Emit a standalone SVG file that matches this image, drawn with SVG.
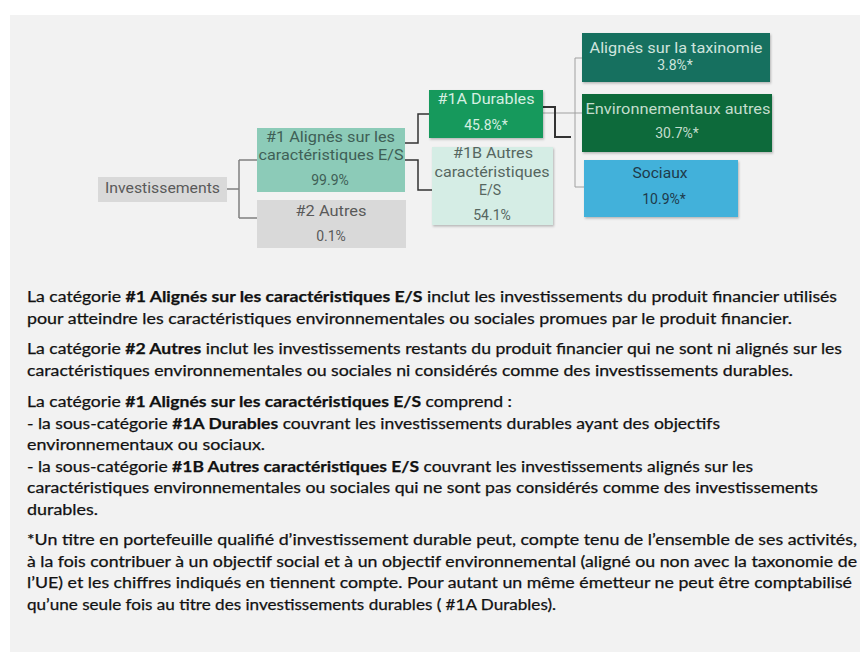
<svg xmlns="http://www.w3.org/2000/svg" width="860" height="655" viewBox="0 0 860 655">
<style>
.lbl{font-family:Roboto,"Liberation Sans",sans-serif;font-size:14px;text-anchor:middle;}
.body{font-family:Lato,"Liberation Sans",sans-serif;font-size:15.5px;fill:#111;stroke:#111;stroke-width:0.25;}
.b{font-weight:bold;}
.cg{fill:none;stroke:#808080;stroke-width:1.5;}
.cd{fill:none;stroke:#333;stroke-width:1.5;}
.ct{fill:none;stroke:#a0a0a0;stroke-width:1;}
</style>
<defs>
<filter id="sh" x="-10%" y="-10%" width="130%" height="140%">
<feDropShadow dx="1" dy="1.5" stdDeviation="1" flood-color="#000" flood-opacity="0.25"/>
</filter>
</defs>
<rect x="0" y="0" width="860" height="655" fill="#ffffff"/>
<rect x="10" y="15" width="850" height="637" fill="#f2f2f2"/>

<g id="connectors">
<path class="cg" d="M227,189 H239 M239,160 V218 M239,160 H257 M239,218 H257"/>
<path class="cd" d="M405,143 H418 V114 H430"/>
<path class="cd" d="M405,160 H418 V190 H432"/>
<path class="ct" d="M543,113 H582 M575,58 V187 M575,58 H582 M575,187 H584"/>
<path class="cd" d="M543,107 H555 V137 H571" style="stroke-width:2"/>
</g>

<g id="investissements">
<rect x="98" y="177" width="129" height="25" fill="#d9d9d9"/>
<text class="lbl" x="162.5" y="193" fill="#595959" textLength="115" lengthAdjust="spacingAndGlyphs">Investissements</text>
</g>

<g id="n1">
<rect x="257" y="128" width="148" height="64" fill="#8ccbb8"/>
<text class="lbl" x="330.5" y="142" fill="#3f5f56" textLength="129" lengthAdjust="spacingAndGlyphs">#1 Alignés sur les</text>
<text class="lbl" x="331" y="160" fill="#3f5f56" textLength="145" lengthAdjust="spacingAndGlyphs">caractéristiques E/S</text>
<text class="lbl" x="330" y="185" fill="#3f5f56">99.9%</text>
</g>

<g id="n2">
<rect x="257" y="200" width="149" height="48" fill="#d9d9d9"/>
<text class="lbl" x="331" y="216" fill="#595959" textLength="71" lengthAdjust="spacingAndGlyphs">#2 Autres</text>
<text class="lbl" x="331" y="241" fill="#595959">0.1%</text>
</g>

<g id="n1a">
<rect x="429" y="90" width="114" height="48" fill="#12995c" filter="url(#sh)"/>
<text class="lbl" x="486" y="104" fill="#d6efe2" textLength="97" lengthAdjust="spacingAndGlyphs">#1A Durables</text>
<text class="lbl" x="486" y="130" fill="#d6efe2">45.8%*</text>
</g>

<g id="n1b">
<rect x="432" y="147" width="121" height="78" fill="#d5ede5" filter="url(#sh)"/>
<text class="lbl" x="493" y="158" fill="#56665f" textLength="80" lengthAdjust="spacingAndGlyphs">#1B Autres</text>
<text class="lbl" x="492" y="177" fill="#56665f" textLength="115" lengthAdjust="spacingAndGlyphs">caractéristiques</text>
<text class="lbl" x="490" y="195" fill="#56665f">E/S</text>
<text class="lbl" x="492" y="220" fill="#56665f">54.1%</text>
</g>

<g id="taxinomie">
<rect x="582" y="33" width="188" height="49" fill="#16705f" filter="url(#sh)"/>
<text class="lbl" x="676" y="53" fill="#cfe4dd" textLength="173" lengthAdjust="spacingAndGlyphs">Alignés sur la taxinomie</text>
<text class="lbl" x="675" y="70" fill="#cfe4dd">3.8%*</text>
</g>

<g id="env">
<rect x="582" y="94" width="190" height="58" fill="#0b6b3b" filter="url(#sh)"/>
<text class="lbl" x="678" y="114" fill="#c3ddcd" textLength="185" lengthAdjust="spacingAndGlyphs">Environnementaux autres</text>
<text class="lbl" x="677" y="138" fill="#c3ddcd">30.7%*</text>
</g>

<g id="sociaux">
<rect x="584" y="160" width="154" height="57" fill="#42b1da" filter="url(#sh)"/>
<text class="lbl" x="660" y="178" fill="#1e3a4a" textLength="55" lengthAdjust="spacingAndGlyphs">Sociaux</text>
<text class="lbl" x="664" y="204" fill="#1e3a4a">10.9%*</text>
</g>

<g id="notes">
<text class="body" x="27" y="302" textLength="810" lengthAdjust="spacingAndGlyphs">La catégorie <tspan class="b">#1 Alignés sur les caractéristiques E/S</tspan> inclut les investissements du produit financier utilisés</text>
<text class="body" x="27" y="323.5" textLength="765" lengthAdjust="spacingAndGlyphs">pour atteindre les caractéristiques environnementales ou sociales promues par le produit financier.</text>
<text class="body" x="27" y="354" textLength="815" lengthAdjust="spacingAndGlyphs">La catégorie <tspan class="b">#2 Autres</tspan> inclut les investissements restants du produit financier qui ne sont ni alignés sur les</text>
<text class="body" x="27" y="375.5" textLength="766" lengthAdjust="spacingAndGlyphs">caractéristiques environnementales ou sociales ni considérés comme des investissements durables.</text>
<text class="body" x="27" y="407" textLength="485" lengthAdjust="spacingAndGlyphs">La catégorie <tspan class="b">#1 Alignés sur les caractéristiques E/S</tspan> comprend :</text>
<text class="body" x="27" y="428.5" textLength="693" lengthAdjust="spacingAndGlyphs">- la sous-catégorie <tspan class="b">#1A Durables</tspan> couvrant les investissements durables ayant des objectifs</text>
<text class="body" x="27" y="450" textLength="238" lengthAdjust="spacingAndGlyphs">environnementaux ou sociaux.</text>
<text class="body" x="27" y="471.5" textLength="726" lengthAdjust="spacingAndGlyphs">- la sous-catégorie <tspan class="b">#1B Autres caractéristiques E/S</tspan> couvrant les investissements alignés sur les</text>
<text class="body" x="27" y="493" textLength="791" lengthAdjust="spacingAndGlyphs">caractéristiques environnementales ou sociales qui ne sont pas considérés comme des investissements</text>
<text class="body" x="27" y="514.5" textLength="71" lengthAdjust="spacingAndGlyphs">durables.</text>
<text class="body" x="27" y="545" textLength="830" lengthAdjust="spacingAndGlyphs">*Un titre en portefeuille qualifié d’investissement durable peut, compte tenu de l’ensemble de ses activités,</text>
<text class="body" x="27" y="566.5" textLength="830" lengthAdjust="spacingAndGlyphs">à la fois contribuer à un objectif social et à un objectif environnemental (aligné ou non avec la taxonomie de</text>
<text class="body" x="27" y="588" textLength="825" lengthAdjust="spacingAndGlyphs">l’UE) et les chiffres indiqués en tiennent compte. Pour autant un même émetteur ne peut être comptabilisé</text>
<text class="body" x="27" y="609.5" textLength="529" lengthAdjust="spacingAndGlyphs">qu’une seule fois au titre des investissements durables ( #1A Durables).</text>
</g>
</svg>
